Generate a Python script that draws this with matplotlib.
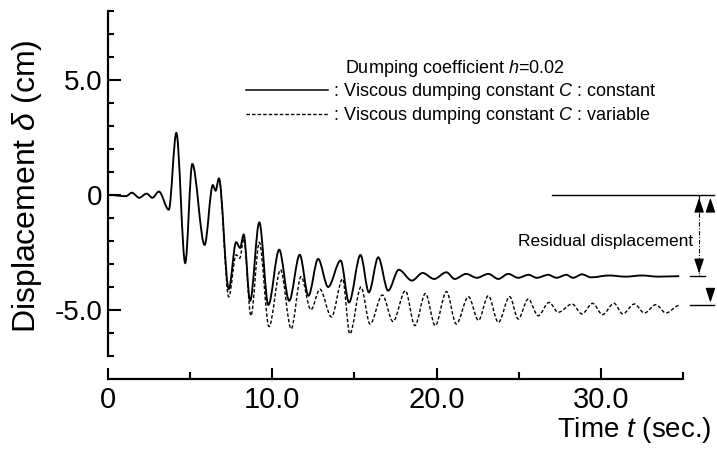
import numpy as np
import matplotlib.pyplot as plt
from matplotlib.path import Path
from matplotlib.patches import PathPatch

plt.rcParams['font.family'] = ['Liberation Sans', 'DejaVu Sans']
plt.rcParams['mathtext.fontset'] = 'custom'
plt.rcParams['mathtext.rm'] = 'Liberation Sans'
plt.rcParams['mathtext.it'] = 'Liberation Sans:italic'

# peaks / troughs (time in s, displacement in cm)
solid_t = [0, 1.1, 1.45, 1.9, 2.35, 2.7, 3.1, 3.7, 4.16, 4.7, 5.13, 5.88, 6.38, 6.55, 6.75,
           7.35, 7.8, 8.04, 8.26, 8.65, 9.21, 9.76, 10.42, 11.03, 11.67, 12.2, 12.79, 13.4,
           14.16, 14.67, 15.37, 15.88, 16.45, 17.05, 17.7, 18.5, 19.15, 19.85, 20.6, 21.1,
           21.8, 22.45, 23.15, 23.76, 24.36, 24.97, 25.6, 26.1, 26.8, 27.3, 27.9, 28.3,
           28.85, 29.4, 30.5, 31.5, 32.5, 33.5, 34.77]
solid_d = [0, -0.05, 0.1, -0.12, 0.06, -0.12, 0.15, -0.64, 2.7, -2.96, 1.35, -2.17, 0.43, 0.19, 0.72,
           -4.09, -2.05, -2.3, -1.72, -4.6, -1.19, -4.78, -2.38, -4.6, -2.6, -4.38, -2.78, -4.0,
           -2.85, -4.67, -2.61, -4.23, -2.71, -4.16, -3.25, -3.72, -3.39, -3.65, -3.36, -3.65,
           -3.43, -3.6, -3.43, -3.65, -3.43, -3.6, -3.47, -3.6, -3.47, -3.6, -3.47, -3.6,
           -3.45, -3.58, -3.5, -3.55, -3.5, -3.55, -3.53]

dashed_t = [6.75, 7.35, 7.8, 8.02, 8.26, 8.7, 9.21, 9.8, 10.5, 11.15, 11.75, 12.35, 12.9, 13.6,
            14.28, 14.72, 15.4, 15.95, 16.7, 17.35, 18.1, 18.68, 19.32, 19.92, 20.6, 21.2,
            21.94, 22.55, 23.15, 23.76, 24.45, 24.97, 25.58, 26.18, 26.85, 27.4, 28.25, 28.85,
            29.5, 30.1, 30.8, 31.33, 32.04, 32.65, 33.35, 33.96, 34.77]
dashed_d = [0.72, -4.43, -2.6, -2.75, -1.9, -5.25, -2.06, -5.72, -3.25, -5.82, -3.55, -4.99, -4.1, -5.3,
            -3.65, -6.04, -4.0, -5.61, -4.35, -5.5, -4.16, -5.68, -4.28, -5.68, -4.2, -5.61,
            -4.42, -5.45, -4.38, -5.54, -4.42, -5.39, -4.52, -5.25, -4.67, -5.1, -4.74, -5.17,
            -4.71, -5.2, -4.71, -5.17, -4.74, -5.13, -4.77, -5.13, -4.8]

ytick_pos = [-5, 0, 5]
ytick_labels = ['-5.0', '0', '5.0']
xtick_pos = [0, 10, 20, 30]
xtick_labels = ['0', '10.0', '20.0', '30.0']

W, H = 717, 449


def fpx(x, y):
    # pixel position (from top-left) -> figure fraction
    return x / W, 1 - y / H


def smooth_path(t, d):
    # cubic segments with flat tangents at each read extremum
    verts = [(t[0], d[0])]
    codes = [Path.MOVETO]
    for i in range(len(t) - 1):
        dx = (t[i + 1] - t[i]) / 3
        verts += [(t[i] + dx, d[i]), (t[i + 1] - dx, d[i + 1]), (t[i + 1], d[i + 1])]
        codes += [Path.CURVE4] * 3
    return Path(verts, codes)


fig = plt.figure(figsize=(W / 100, H / 100), dpi=100)
ax = fig.add_axes([108 / W, 70 / H, 575 / W, 368 / H])
ax.set_xlim(0, 35)
ax.set_ylim(-8, 8)

ax.add_patch(PathPatch(smooth_path(solid_t, solid_d), fill=False, lw=1.35, ec='black'))
ax.add_patch(PathPatch(smooth_path(dashed_t, dashed_d), fill=False, lw=1.0, ec='black',
                       ls=(0, (2.5, 1.5))))

for s in ['top', 'right']:
    ax.spines[s].set_visible(False)
ax.spines['left'].set_bounds(-7, 8)
ax.spines['bottom'].set_bounds(0, 35)
ax.spines['left'].set_linewidth(1.6)
ax.spines['bottom'].set_linewidth(1.6)

ax.set_yticks(ytick_pos, ytick_labels)
ax.set_yticks([v for v in range(-7, 9) if v not in ytick_pos], minor=True)
ax.set_xticks(xtick_pos, xtick_labels)
ax.set_xticks([5, 15, 25, 35], minor=True)
ax.tick_params(axis='y', which='major', direction='in', length=9, width=1.5, labelsize=20, pad=4)
ax.tick_params(axis='y', which='minor', direction='in', length=4.5, width=1.5)
ax.tick_params(axis='x', which='major', direction='in', length=8, width=1.5, labelsize=21, pad=5)
ax.tick_params(axis='x', which='minor', direction='in', length=5, width=1.5)

fig.text(*fpx(27, 186), 'Displacement $\\delta$ (cm)', rotation=90, ha='center', va='center', fontsize=23)
fig.text(*fpx(712, 430), 'Time $t$ (sec.)', ha='right', va='center', fontsize=20)

# legend drawn by hand
fig.text(*fpx(345, 69), 'Dumping coefficient $h$=0.02', ha='left', va='center', fontsize=13)
fig.add_artist(plt.Line2D([246 / W, 328 / W], [1 - 90 / H] * 2, color='black', lw=1.1))
fig.add_artist(plt.Line2D([246 / W, 328 / W], [1 - 114 / H] * 2, color='black', lw=1.0,
                          ls=(0, (2.5, 1.5))))
fig.text(*fpx(333, 91), ': Viscous dumping constant $C$ : constant', ha='left', va='center', fontsize=13)
fig.text(*fpx(333, 115), ': Viscous dumping constant $C$ : variable', ha='left', va='center', fontsize=13)

# residual displacement marks
res_solid = solid_d[-1]
res_dashed = dashed_d[-1]
ax.plot([27, 36.9], [0, 0], color='black', lw=1.0, clip_on=False)
ax.plot([35.45, 36.36], [res_solid, res_solid], color='black', lw=1.0, clip_on=False)
ax.plot([35.45, 36.9], [res_dashed, res_dashed], color='black', lw=1.0, clip_on=False)
ax.plot([35.98, 35.98], [0, res_solid], color='black', lw=0.8, ls=(0, (4, 1.5, 1, 1.5)), clip_on=False)
head = dict(arrowstyle='-|>,head_length=0.9,head_width=0.3', color='black', lw=0.8)
for xa, ya in [(35.98, res_solid), (36.67, res_dashed)]:
    ax.annotate('', xy=(xa, 0), xytext=(xa, -0.6), arrowprops=head, annotation_clip=False)
    ax.annotate('', xy=(xa, ya), xytext=(xa, ya + 0.6), arrowprops=head, annotation_clip=False)
ax.text(35.6, -2.04, 'Residual displacement', ha='right', va='center', fontsize=12.5)

fig.savefig('out.png', dpi=100)
